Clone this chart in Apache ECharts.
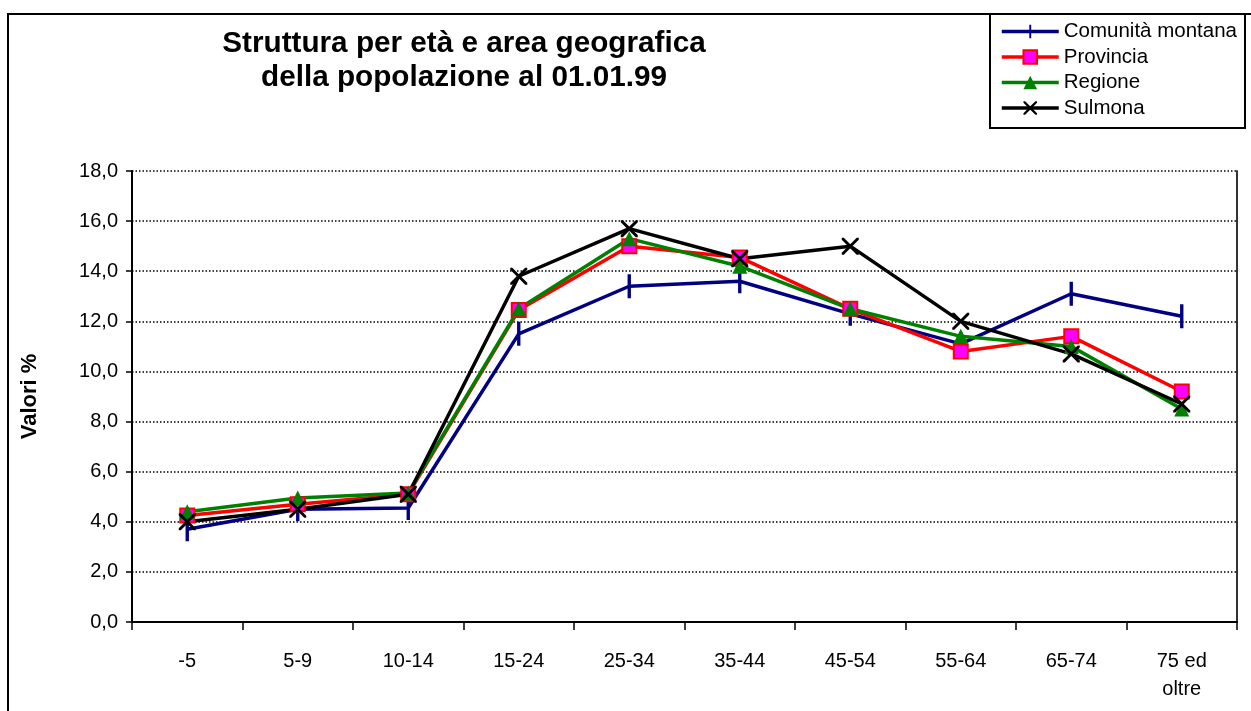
<!DOCTYPE html>
<html>
<head>
<meta charset="utf-8">
<script src="https://cdn.jsdelivr.net/npm/echarts@6/dist/echarts.min.js"></script>
<style>
html,body{margin:0;padding:0;background:#fff;}
#chart{width:1251px;height:711px;}
</style>
</head>
<body>
<div id="chart"></div>
<script>
const categories = ['-5', '5-9', '10-14', '15-24', '25-34', '35-44', '45-54', '55-64', '65-74', '75 ed\noltre'];
const comunitaMontana = [3.7, 4.5, 4.55, 11.5, 13.4, 13.6, 12.3, 11.1, 13.1, 12.2];
const provincia = [4.25, 4.7, 5.1, 12.45, 15.0, 14.55, 12.5, 10.8, 11.4, 9.2];
const regione = [4.4, 4.95, 5.15, 12.5, 15.3, 14.2, 12.5, 11.4, 11.0, 8.5];
const sulmona = [4.0, 4.5, 5.1, 13.8, 15.7, 14.5, 15.0, 12.0, 10.7, 8.7];
const seriesNames = ['Comunità montana', 'Provincia', 'Regione', 'Sulmona'];
const titleText = 'Struttura per età e area geografica\ndella popolazione al 01.01.99';
const yAxisName = 'Valori %';

const FONT = "'Liberation Sans', Arial, sans-serif";
// vertical bar inside a square box (degenerate sub-paths widen the bounding box)
const barPath = 'path://M4.3,0 L5.7,0 L5.7,10 L4.3,10 Z M0,5 L0.01,5 L0.01,5.01 Z M10,5 L9.99,5 L9.99,5.01 Z';
const xPath = 'path://M0,0 L1.2,0 L5,3.8 L8.8,0 L10,0 L10,1.2 L6.2,5 L10,8.8 L10,10 L8.8,10 L5,6.2 L1.2,10 L0,10 L0,8.8 L3.8,5 L0,1.2 Z';

const chart = echarts.init(document.getElementById('chart'), null, {renderer: 'canvas'});
const option = {
  backgroundColor: '#fff',
  animation: false,
  textStyle: {fontFamily: FONT},
  title: {
    text: titleText,
    left: 459,
    top: 22,
    textAlign: 'center',
    textStyle: {fontFamily: FONT, fontSize: 29.7, fontWeight: 'bold', color: '#000', lineHeight: 34}
  },
  graphic: [
    {type: 'rect', z: 0, shape: {x: 8, y: 14, width: 1300, height: 800}, style: {fill: 'none', stroke: '#000', lineWidth: 2}},
    {type: 'rect', z: 1, shape: {x: 990, y: 14, width: 255, height: 114}, style: {fill: '#fff', stroke: '#000', lineWidth: 2}}
  ],
  legend: {
    orient: 'vertical',
    left: 995,
    top: 16,
    z: 5,
    itemWidth: 57,
    itemHeight: 17,
    itemGap: 4.5,
    selectedMode: false,
    lineStyle: {width: 3.5},
    textStyle: {fontFamily: FONT, fontSize: 20.5, color: '#000'},
    data: seriesNames
  },
  grid: {left: 132, right: 14, top: 171, bottom: 89, containLabel: false},
  xAxis: {
    type: 'category',
    data: categories,
    boundaryGap: true,
    axisLine: {lineStyle: {color: '#000', width: 2}},
    axisTick: {show: true, length: 8, interval: 0, lineStyle: {color: '#000', width: 1.5}},
    axisLabel: {interval: 0, margin: 25, fontFamily: FONT, fontSize: 20, color: '#000', lineHeight: 28},
    splitLine: {show: false}
  },
  yAxis: [
    {
      type: 'value', min: 0, max: 18, interval: 2,
      name: yAxisName, nameLocation: 'middle', nameRotate: 90, nameGap: 91,
      nameTextStyle: {fontFamily: FONT, fontSize: 22, fontWeight: 'bold', color: '#000'},
      axisLine: {show: true, lineStyle: {color: '#000', width: 2}},
      axisTick: {show: true, length: 6, lineStyle: {color: '#000', width: 1.5}},
      axisLabel: {margin: 14, fontFamily: FONT, fontSize: 20, color: '#000',
        formatter: v => v.toFixed(1).replace('.', ',')},
      splitLine: {show: true, lineStyle: {color: '#000', width: 1.5, type: [1.5, 2]}}
    },
    {
      type: 'value', min: 0, max: 18, interval: 2, position: 'right',
      axisLine: {show: true, lineStyle: {color: '#333', width: 2}},
      axisTick: {show: false}, axisLabel: {show: false}, splitLine: {show: false}
    }
  ],
  series: [
    {
      name: seriesNames[0], type: 'line', data: comunitaMontana,
      symbol: barPath, symbolSize: 24,
      lineStyle: {color: '#000080', width: 3.5},
      itemStyle: {color: '#000080'}
    },
    {
      name: seriesNames[1], type: 'line', data: provincia,
      symbol: 'rect', symbolSize: 14,
      lineStyle: {color: '#FF0000', width: 3.5},
      itemStyle: {color: '#FF00FF', borderColor: '#FF0000', borderWidth: 2}
    },
    {
      name: seriesNames[2], type: 'line', data: regione,
      symbol: 'triangle', symbolSize: 15,
      lineStyle: {color: '#008000', width: 3.5},
      itemStyle: {color: '#008000'}
    },
    {
      name: seriesNames[3], type: 'line', data: sulmona,
      symbol: xPath, symbolSize: 17,
      lineStyle: {color: '#000', width: 3.5},
      itemStyle: {color: '#000'}
    }
  ]
};
chart.setOption(option);
</script>
</body>
</html>
